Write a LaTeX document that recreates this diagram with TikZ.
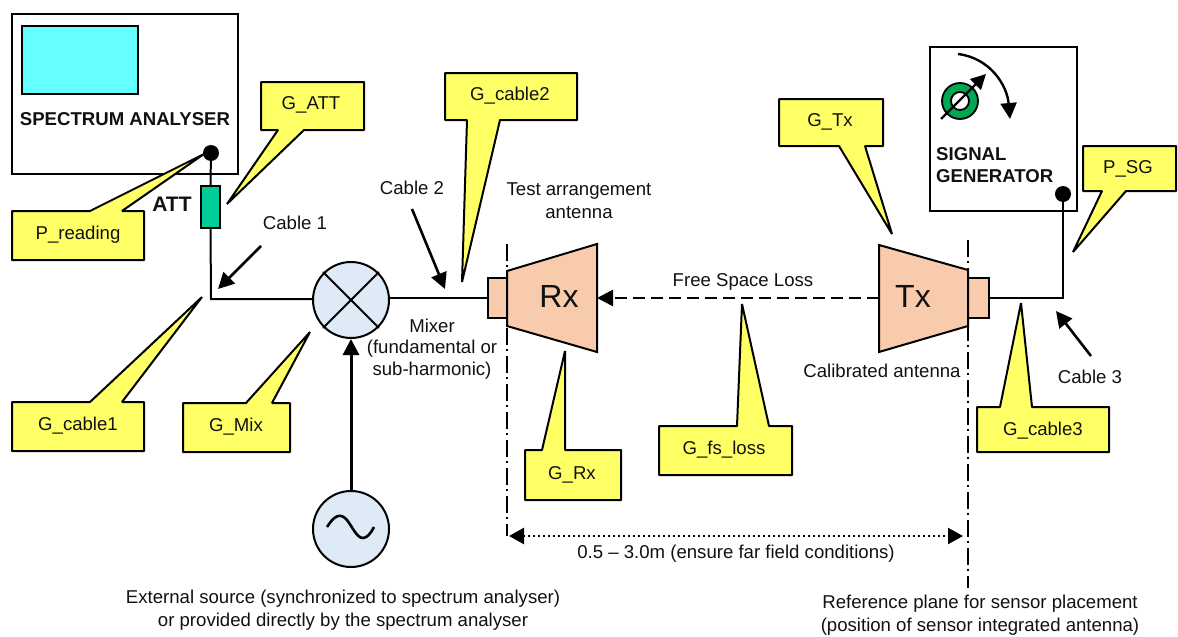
\documentclass[tikz,border=0pt]{standalone}
\usepackage{fontspec}
\setmainfont{Liberation Sans}
\usetikzlibrary{arrows.meta}
\definecolor{cally}{HTML}{FFFF66}
\definecolor{hornc}{HTML}{F8CBAD}
\definecolor{mixc}{HTML}{DEEAF6}
\definecolor{attc}{HTML}{00CC99}
\definecolor{knobc}{HTML}{00A651}
\definecolor{scrc}{HTML}{66FFFF}
\definecolor{inkc}{HTML}{111111}
\newcommand{\calloutdown}[8]{% x1 y1 x2 y2 b1 b2 tipx tipy -- tail below
  \fill[cally,draw=black,callline] (#1,#2) -- (#3,#2) -- (#3,#4) -- (#6,#4) -- (#7,#8) -- (#5,#4) -- (#1,#4) -- cycle;}
\newcommand{\calloutup}[8]{% tail above
  \fill[cally,draw=black,callline] (#1,#2) -- (#5,#2) -- (#7,#8) -- (#6,#2) -- (#3,#2) -- (#3,#4) -- (#1,#4) -- cycle;}
\tikzset{
  callline/.style={line width=2pt,line join=bevel},
  lbl/.style={font=\fontsize{18.6}{23}\selectfont,text=inkc,inner sep=0pt,align=center},
  bold lbl/.style={font=\fontsize{18.6}{22}\selectfont\bfseries,text=inkc,inner sep=0pt,align=left},
  big lbl/.style={font=\fontsize{32}{32}\selectfont,text=inkc,inner sep=0pt},
  wire/.style={line width=2pt,draw=black},
  box/.style={draw=black,line width=2pt,fill=white},
  hornpart/.style={draw=black,line width=2pt,fill=hornc},
  roundel/.style={circle,draw=black,line width=2pt,fill=mixc,minimum size=76pt,inner sep=0pt},
  blob/.style={circle,fill=black,minimum size=16pt,inner sep=0pt},
  note arrow/.style={line width=2.6pt,-{Triangle[length=16pt,width=16pt]}},
  refline/.style={line width=2.2pt,dash pattern=on 17pt off 4pt on 2pt off 5pt},
}
\begin{document}
\begin{tikzpicture}[x=1pt,y=-1pt]
\useasboundingbox (0,0) rectangle (1178,637);
% instruments
\node[box,minimum width=226pt,minimum height=160pt,inner sep=0pt] (sa) at (125,94) {};
\node[draw=black,line width=2pt,fill=scrc,minimum width=116pt,minimum height=68pt,inner sep=0pt] (screen) at (80,60) {};
\node[bold lbl] (satext) at (125,119) {SPECTRUM ANALYSER};
\node[box,minimum width=147pt,minimum height=164pt,inner sep=0pt] (sg) at (1003.5,129) {};
\node[bold lbl,anchor=west] (sgtext) at (936,165) {SIGNAL\\GENERATOR};
% knob
\draw[knobc,line width=9pt] (960,101) circle (13.5pt);
\draw[black,line width=1.8pt] (960,101) circle (18pt) (960,101) circle (9pt);
\coordinate (kn1) at (941,119);
\coordinate (kn2) at (986,74);
\draw[line width=2.4pt,-{Triangle[length=15pt,width=15pt]}] (kn1) -- (kn2);
\coordinate (rot1) at (958,54);
\coordinate (rot2) at (1010,119);
\draw[line width=2.4pt,-{Triangle[length=16pt,width=16pt]}] (rot1) .. controls (990,58) and (1007,85) .. (rot2);
% blobs
\node[blob] (sadot) at (211,153) {};
\node[blob] (sgdot) at (1063,194) {};
% attenuator and wires
\node[draw=black,line width=2pt,fill=attc,minimum width=19pt,minimum height=42pt,inner sep=0pt] (att) at (210.5,207) {};
\node[roundel] (mixer) at (351,300) {};
\draw[wire,line cap=round] (mixer.north west) -- (mixer.south east) (mixer.north east) -- (mixer.south west);
\node[roundel] (src) at (351,529) {};
\coordinate (s1) at (327,527);
\coordinate (s2) at (374,527);
\draw[line width=2.6pt] (s1) .. controls (334,516) and (340,512) .. (347,520) .. controls (353,528) and (357,538) .. (363,538) .. controls (367,538) and (371,533) .. (s2);
\draw[wire] (sadot) -- (att.north);
\coordinate (corner1) at (211,299);
\draw[wire] (att.south) -- (corner1) -- (mixer.west |- corner1);
\draw[line width=3pt,-{Triangle[length=16pt,width=16pt]}] (src.north) -- (mixer.south);
% antennas
\node[hornpart,minimum width=19pt,minimum height=40pt,inner sep=0pt] (rxfl) at (497.5,298) {};
\node[hornpart,minimum width=21pt,minimum height=40pt,inner sep=0pt] (txfl) at (978.5,298) {};
\draw[hornpart,line join=miter] (507,271) -- (597,244) -- (597,352) -- (507,326) -- cycle;
\draw[hornpart,line join=miter] (968,270) -- (879,245) -- (879,352) -- (968,326) -- cycle;
\coordinate (rxmouth) at (597,298);
\coordinate (txmouth) at (879,298);
\node[big lbl] (rxt) at (559,296) {Rx};
\node[big lbl] (txt) at (913,296) {Tx};
\draw[wire] (mixer.east |- rxfl) -- (rxfl.west);
\coordinate (corner3) at (1063,298);
\draw[wire] (txfl.east) -- (corner3) -- (sgdot);
\draw[line width=2.6pt,dash pattern=on 12pt off 6pt,-{Triangle[length=16pt,width=16pt]}] (txmouth) -- (rxmouth);
% reference planes
\coordinate (refa1) at (507,244);
\coordinate (refa2) at (507,536);
\coordinate (refb1) at (968,240);
\coordinate (refb2) at (968,588);
\draw[refline] (refa1) -- (refa2);
\draw[refline] (refb1) -- (refb2);
\coordinate (spa) at (509,536);
\coordinate (spb) at (963,536);
\draw[line width=2.4pt,dash pattern=on 2pt off 3pt,{Triangle[length=15pt,width=16pt]}-{Triangle[length=15pt,width=16pt]}] (spa) -- (spb);
% callouts
\calloutup{12}{211}{144}{260}{90}{122}{204}{154}
\calloutdown{261}{82}{364}{130}{278}{304}{227}{204}
\calloutdown{445}{73}{577}{120}{467}{500}{462}{282}
\calloutdown{779}{99}{883}{146}{839}{865}{892}{234}
\calloutdown{1083}{146}{1176}{191}{1102}{1126}{1073}{252}
\calloutup{12}{402}{144}{451}{90}{122}{202}{297}
\calloutup{183}{403}{290}{452}{246}{272}{310}{332}
\calloutup{525}{450}{621}{500}{542}{565}{565}{351}
\calloutup{659}{426}{792}{475}{737}{769}{742}{304}
\calloutup{977}{407}{1109}{452}{1000}{1032}{1021}{303}
\node[lbl] (l1) at (78,235) {P\_reading};
\node[lbl] (l2) at (311,105) {G\_ATT};
\node[lbl] (l3) at (510,96) {G\_cable2};
\node[lbl] (l4) at (830,122) {G\_Tx};
\node[lbl] (l5) at (1128,169) {P\_SG};
\node[lbl] (l6) at (78,426) {G\_cable1};
\node[lbl] (l7) at (236,427) {G\_Mix};
\node[lbl] (l8) at (572,475) {G\_Rx};
\node[lbl] (l9) at (724,450) {G\_fs\_loss};
\node[lbl] (l10) at (1043,431) {G\_cable3};
% notes
\node[font=\fontsize{21}{21}\selectfont\bfseries,text=inkc,inner sep=0pt] (atttext) at (172,204) {ATT};
\node[lbl] (c1) at (295,223) {Cable 1};
\node[lbl] (c2) at (412,188) {Cable 2};
\node[lbl] (c3) at (1090,377) {Cable 3};
\coordinate (c1s) at (261,246); \coordinate (c1e) at (218,289);
\coordinate (c2s) at (412,209); \coordinate (c2e) at (445,289);
\coordinate (c3s) at (1091,356); \coordinate (c3e) at (1056,311);
\draw[note arrow] (c1s) -- (c1e);
\draw[note arrow] (c2s) -- (c2e);
\draw[note arrow] (c3s) -- (c3e);
\node[lbl] (ta) at (579,201) {Test arrangement\\antenna};
\node[lbl] (fs) at (743,282) {Free Space Loss};
\node[lbl,font=\fontsize{18.6}{21.7}\selectfont] (mx) at (432,349) {Mixer\\(fundamental or\\sub-harmonic)};
\node[lbl] (ca) at (882,371) {Calibrated antenna};
\node[lbl] (dist) at (736,554) {0.5 – 3.0m (ensure far field conditions)};
\node[lbl] (ext) at (343,610) {External source (synchronized to spectrum analyser)\\or provided directly by the spectrum analyser};
\node[lbl] (rp) at (980,615) {Reference plane for sensor placement\\(position of sensor integrated antenna)};
\end{tikzpicture}
\end{document}
